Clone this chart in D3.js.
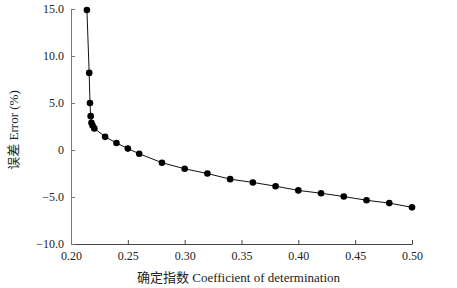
<!DOCTYPE html>
<html>
<head>
<meta charset="utf-8">
<script src="https://cdn.jsdelivr.net/npm/d3@7"></script>
<style>
  body { margin: 0; background: #fff; }
</style>
</head>
<body>
<div id="chart"></div>
<script>
// coefficient of determination (x) and error % (y)
const coefValues = [0.214, 0.216, 0.2167, 0.2173, 0.218, 0.219, 0.2205, 0.23, 0.24, 0.25, 0.26,
    0.28, 0.30, 0.32, 0.34, 0.36, 0.38, 0.40, 0.42, 0.44, 0.46, 0.48, 0.50];
const errorValues = [14.9, 8.2, 5.0, 3.6, 2.9, 2.6, 2.3, 1.4, 0.75, 0.15, -0.4,
    -1.35, -2.0, -2.5, -3.1, -3.45, -3.85, -4.3, -4.6, -4.95, -5.35, -5.65, -6.1];
const xTicks = [0.20, 0.25, 0.30, 0.35, 0.40, 0.45, 0.50];
const yTicks = [15, 10, 5, 0, -5, -10];

const data = coefValues.map((c, i) => ({x: c, y: errorValues[i]}));

const serif = "'Liberation Serif', 'Times New Roman', 'DejaVu Serif', 'Noto Sans CJK SC', serif";

const width = 457, height = 288;
const margin = {top: 9, right: 45, bottom: 44, left: 71};
const innerW = width - margin.left - margin.right;
const innerH = height - margin.top - margin.bottom;

const svg = d3.select("#chart")
    .append("svg")
    .attr("width", width)
    .attr("height", height)
    .attr("font-family", serif);

const g = svg.append("g")
    .attr("transform", `translate(${margin.left},${margin.top})`);

const xScale = d3.scaleLinear().domain([0.20, 0.50]).range([0, innerW]);
const yScale = d3.scaleLinear().domain([-10, 15]).range([innerH, 0]);

// x axis, ticks pointing inward
const xAxis = g.append("g")
    .attr("transform", `translate(0,${innerH})`)
    .call(d3.axisBottom(xScale).tickValues(xTicks).tickSizeInner(-4).tickSizeOuter(0)
        .tickFormat(d3.format(".2f")));
xAxis.attr("font-family", serif).attr("font-size", 12);
xAxis.select(".domain").attr("stroke", "#444");
xAxis.selectAll(".tick line").attr("stroke", "#444");
xAxis.selectAll(".tick text").attr("y", 7).attr("dy", "0.71em").attr("fill", "#222");

// y axis, ticks pointing inward
const yAxis = g.append("g")
    .call(d3.axisLeft(yScale).tickValues(yTicks).tickSizeInner(-4).tickSizeOuter(0)
        .tickFormat(d => d === 0 ? "0" : d3.format(".1f")(d)));
yAxis.attr("font-family", serif).attr("font-size", 12);
yAxis.select(".domain").attr("stroke", "#777");
yAxis.selectAll(".tick line").attr("stroke", "#777");
yAxis.selectAll(".tick text").attr("x", -7).attr("fill", "#222");

// line
g.append("path")
    .datum(data)
    .attr("fill", "none")
    .attr("stroke", "#111")
    .attr("stroke-width", 1)
    .attr("d", d3.line().x(d => xScale(d.x)).y(d => yScale(d.y)));

// markers
g.selectAll("circle")
    .data(data)
    .join("circle")
    .attr("cx", d => xScale(d.x))
    .attr("cy", d => yScale(d.y))
    .attr("r", 3.3)
    .attr("fill", "#000");

// axis titles
svg.append("text")
    .attr("x", margin.left + innerW / 2 - 3)
    .attr("y", 282)
    .attr("text-anchor", "middle")
    .attr("font-size", 13)
    .attr("fill", "#222")
    .text("确定指数 Coefficient of determination");

svg.append("text")
    .attr("transform", `translate(18,${margin.top + 121}) rotate(-90)`)
    .attr("text-anchor", "middle")
    .attr("font-size", 13)
    .attr("fill", "#222")
    .text("误差 Error (%)");
</script>
</body>
</html>
